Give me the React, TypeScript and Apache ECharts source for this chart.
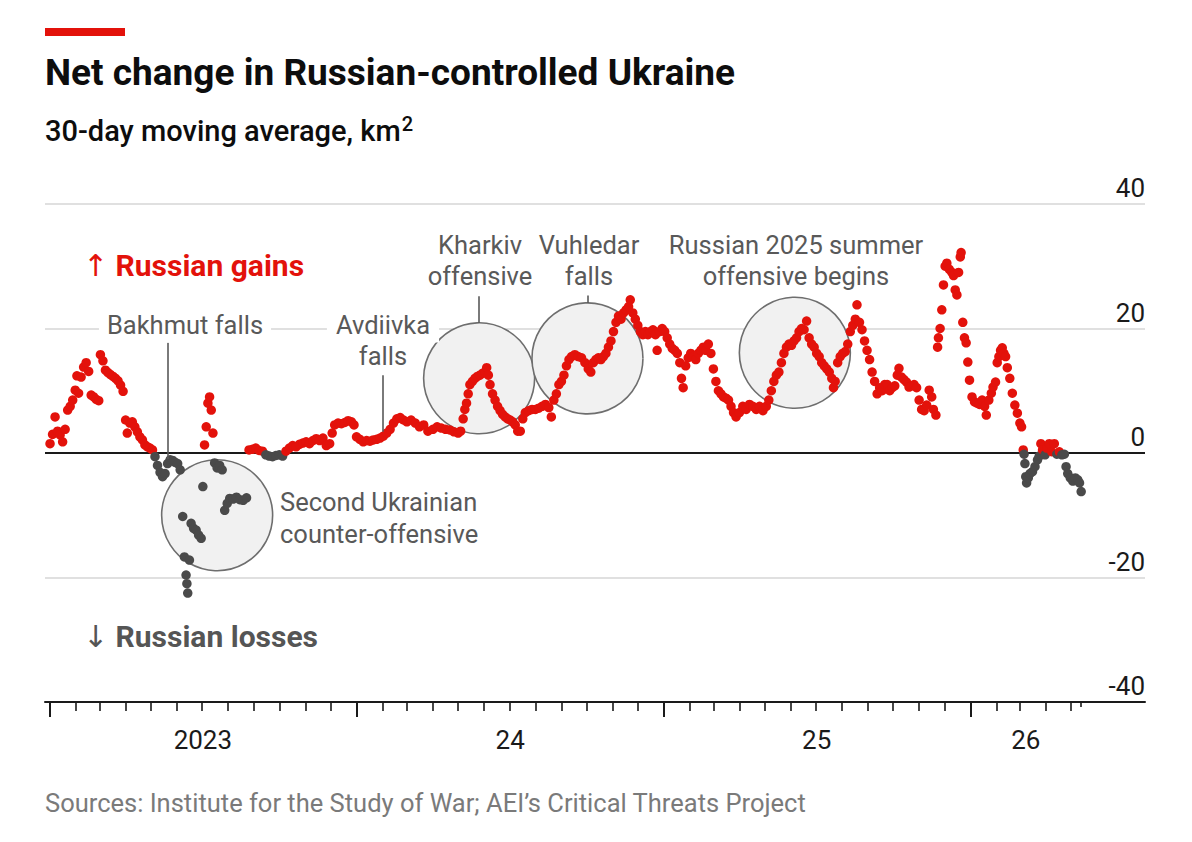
import React, { useEffect, useRef } from "react";
import * as echarts from "echarts";

// ---- Data: 30-day moving average of net change in Russian-controlled area, km2 ----
const dates = [
  "2023-01-01","2023-01-04","2023-01-07","2023-01-10","2023-01-13","2023-01-16","2023-01-19","2023-01-22","2023-01-25","2023-01-28","2023-01-31",
  "2023-02-02","2023-02-04","2023-02-07","2023-02-10","2023-02-13","2023-02-16","2023-02-19","2023-02-22","2023-02-25","2023-02-28",
  "2023-03-02","2023-03-05","2023-03-08","2023-03-11","2023-03-14","2023-03-17","2023-03-20","2023-03-23","2023-03-26","2023-03-29",
  "2023-04-01","2023-04-03","2023-04-06","2023-04-09","2023-04-12","2023-04-15","2023-04-18","2023-04-21","2023-04-24","2023-04-27","2023-04-30",
  "2023-05-03","2023-05-06","2023-05-09","2023-05-12","2023-05-15","2023-05-18","2023-05-21","2023-05-24","2023-05-27","2023-05-30",
  "2023-06-02","2023-06-05","2023-06-08","2023-06-10","2023-06-12","2023-06-13","2023-06-14","2023-06-16","2023-06-18","2023-06-21","2023-06-24","2023-06-27","2023-06-30",
  "2023-07-02","2023-07-04","2023-07-06","2023-07-08","2023-07-10","2023-07-12","2023-07-14","2023-07-16","2023-07-19","2023-07-22","2023-07-25","2023-07-28","2023-07-31",
  "2023-08-03","2023-08-07","2023-08-11","2023-08-15","2023-08-19","2023-08-23","2023-08-26","2023-08-30",
  "2023-09-03","2023-09-07","2023-09-11","2023-09-15","2023-09-19","2023-09-23","2023-09-27",
  "2023-10-01","2023-10-05","2023-10-09","2023-10-13","2023-10-17","2023-10-21","2023-10-25","2023-10-29",
  "2023-11-02","2023-11-06","2023-11-10","2023-11-14","2023-11-18","2023-11-22","2023-11-26","2023-11-30",
  "2023-12-03","2023-12-06","2023-12-10","2023-12-14","2023-12-18","2023-12-22","2023-12-26","2023-12-29",
  "2024-01-01","2024-01-05","2024-01-09","2024-01-13","2024-01-17","2024-01-21","2024-01-25","2024-01-29",
  "2024-02-02","2024-02-06","2024-02-10","2024-02-14","2024-02-18","2024-02-22","2024-02-26",
  "2024-03-01","2024-03-06","2024-03-11","2024-03-16","2024-03-21","2024-03-26",
  "2024-04-01","2024-04-06","2024-04-11","2024-04-16","2024-04-21","2024-04-26",
  "2024-05-01","2024-05-04","2024-05-07","2024-05-09","2024-05-11","2024-05-13","2024-05-15","2024-05-18","2024-05-21","2024-05-24","2024-05-27","2024-05-30",
  "2024-06-02","2024-06-04","2024-06-06","2024-06-08","2024-06-11","2024-06-14","2024-06-17","2024-06-20","2024-06-23","2024-06-26","2024-06-29",
  "2024-07-02","2024-07-05","2024-07-08","2024-07-11","2024-07-14","2024-07-17","2024-07-20","2024-07-24","2024-07-28",
  "2024-08-01","2024-08-05","2024-08-09","2024-08-13","2024-08-17","2024-08-20","2024-08-23","2024-08-26","2024-08-29",
  "2024-09-01","2024-09-04","2024-09-07","2024-09-10","2024-09-13","2024-09-17","2024-09-21","2024-09-25","2024-09-29",
  "2024-10-03","2024-10-06","2024-10-09","2024-10-12","2024-10-15","2024-10-18","2024-10-21","2024-10-24","2024-10-27","2024-10-30",
  "2024-11-02","2024-11-05","2024-11-08","2024-11-11","2024-11-14","2024-11-17","2024-11-20","2024-11-22","2024-11-25","2024-11-28",
  "2024-12-01","2024-12-04","2024-12-07","2024-12-10","2024-12-13","2024-12-16","2024-12-19","2024-12-22","2024-12-24","2024-12-27","2024-12-30",
  "2025-01-02","2025-01-05","2025-01-08","2025-01-11","2025-01-14","2025-01-17","2025-01-20","2025-01-22","2025-01-24","2025-01-27","2025-01-30",
  "2025-02-02","2025-02-05","2025-02-08","2025-02-11","2025-02-14","2025-02-17","2025-02-20","2025-02-23","2025-02-26",
  "2025-03-01","2025-03-04","2025-03-07","2025-03-10","2025-03-13","2025-03-16","2025-03-19","2025-03-22","2025-03-25","2025-03-28",
  "2025-04-01","2025-04-05","2025-04-09","2025-04-13","2025-04-17","2025-04-21","2025-04-25","2025-04-29",
  "2025-05-03","2025-05-06","2025-05-09","2025-05-12","2025-05-15","2025-05-18","2025-05-21","2025-05-24","2025-05-27","2025-05-30",
  "2025-06-02","2025-06-05","2025-06-08","2025-06-11","2025-06-14","2025-06-17","2025-06-20","2025-06-23","2025-06-26","2025-06-29",
  "2025-07-02","2025-07-05","2025-07-08","2025-07-11","2025-07-14","2025-07-17","2025-07-20","2025-07-22","2025-07-24","2025-07-27","2025-07-30",
  "2025-08-02","2025-08-05","2025-08-08","2025-08-11","2025-08-14","2025-08-17","2025-08-19","2025-08-22","2025-08-25","2025-08-28","2025-08-31",
  "2025-09-03","2025-09-06","2025-09-09","2025-09-12","2025-09-15","2025-09-18","2025-09-21","2025-09-24","2025-09-27","2025-09-30",
  "2025-10-03","2025-10-06","2025-10-08","2025-10-11","2025-10-14","2025-10-17","2025-10-20","2025-10-23","2025-10-26","2025-10-29",
  "2025-11-01","2025-11-04","2025-11-07","2025-11-10","2025-11-13","2025-11-16","2025-11-18","2025-11-21","2025-11-23","2025-11-24","2025-11-26","2025-11-28","2025-11-30",
  "2025-12-02","2025-12-04","2025-12-07","2025-12-10","2025-12-12","2025-12-14","2025-12-16","2025-12-18","2025-12-20","2025-12-21","2025-12-23","2025-12-25","2025-12-27","2025-12-29","2025-12-31",
  "2026-01-03","2026-01-06","2026-01-09","2026-01-12","2026-01-15","2026-01-18","2026-01-20","2026-01-23","2026-01-26","2026-01-28","2026-01-31",
  "2026-02-02","2026-02-04","2026-02-06","2026-02-08","2026-02-10","2026-02-12","2026-02-14","2026-02-17","2026-02-20","2026-02-23","2026-02-26",
  "2026-03-01","2026-03-03","2026-03-05","2026-03-06","2026-03-07","2026-03-08","2026-03-09","2026-03-11","2026-03-13","2026-03-16","2026-03-19","2026-03-22","2026-03-24","2026-03-26","2026-03-28","2026-03-31",
  "2026-04-02","2026-04-05","2026-04-08","2026-04-11","2026-04-14","2026-04-17","2026-04-20","2026-04-23","2026-04-25","2026-04-27","2026-04-30",
  "2026-05-03","2026-05-06","2026-05-09","2026-05-11","2026-05-13"
];

const values = [
  1.5, 3.0, 5.8, 3.5, 2.9, 1.8, 3.8, 6.9, 7.5, 8.5, 10.1,
  12.4, 9.6, 12.2, 13.8, 14.5, 13.1, 9.3, 9.0, 8.6, 8.4,
  15.8, 14.8, 13.3, 12.9, 12.6, 12.3, 12.0, 11.6, 10.9, 9.9,
  5.3, 3.2, 4.8, 5.0, 4.2, 3.4, 2.6, 2.1, 1.3, 1.0, 0.8,
  0.5, -0.6, -2.0, -3.1, -3.8, -3.3, -1.7, -1.1, -1.2, -1.5,
  -1.7, -2.7, -10.2, -16.7, -19.6, -21.0, -22.5, -17.2, -11.3, -12.1, -12.4, -13.2, -13.7,
  -5.4, 1.3, 4.2, 8.0, 9.0, 6.9, 3.2, -1.6, -2.4, -2.0, -2.7, -9.2, -8.1,
  -7.3, -7.4, -7.1, -7.5, -7.6, -7.2, 0.5, 0.6,
  0.8, 0.4, 0.3, -0.3, -0.5, -0.6, -0.4,
  -0.3, -0.5, 0.3, 0.8, 1.2, 1.0, 1.4, 1.6,
  1.8, 1.5, 2.0, 2.3, 2.0, 2.4, 1.2, 1.5,
  3.2, 4.5, 4.8, 4.7, 4.9, 5.2, 5.0, 4.5,
  2.6, 2.2, 1.8, 2.0, 1.9, 2.1, 2.2, 2.4,
  2.7, 3.2, 3.8, 4.8, 5.5, 5.7, 5.3,
  5.0, 5.3, 4.8, 4.2, 4.5, 3.5,
  3.8, 4.2, 4.0, 3.8, 3.7, 3.4,
  3.2, 3.5, 5.5, 7.0, 8.0, 9.5, 11.0, 11.5, 12.0, 12.3, 12.5, 12.8,
  13.0, 13.7, 12.5, 11.0, 9.5, 8.5, 7.5, 6.8, 6.2, 5.8, 5.5,
  5.3, 5.0, 4.5, 3.5, 3.5, 5.5, 6.5, 6.8, 7.0,
  7.0, 7.2, 7.5, 7.8, 7.3, 5.8, 8.5, 9.5, 11.0,
  11.5, 12.5, 14.0, 15.0, 15.5, 15.8, 15.5, 15.3, 14.5,
  13.5, 13.0, 14.5, 15.0, 15.3, 15.0, 15.5, 16.0, 17.0, 18.0,
  19.5, 21.0, 22.0, 21.5, 22.5, 23.0, 23.5, 24.6, 22.5, 21.5,
  20.5, 19.5, 19.0, 19.5, 19.0, 19.5, 19.8, 19.0, 16.5, 19.5, 20.0,
  19.5, 18.5, 17.5, 16.8, 16.5, 16.0, 14.5, 12.0, 10.5, 14.0, 15.3,
  16.0, 15.5, 15.0, 16.0, 16.5, 17.0, 16.5, 17.5, 16.0,
  13.5, 11.5, 10.0, 9.5, 9.0, 8.8, 8.5, 7.5, 6.5, 5.8,
  6.5, 7.5, 7.0, 7.8, 7.5, 7.0, 7.5, 6.8,
  7.5, 8.5, 10.0, 11.5, 12.5, 13.0, 14.5, 16.0, 17.0, 17.5,
  17.3, 18.0, 18.5, 19.5, 20.0, 19.8, 21.2, 18.5, 17.5, 17.0,
  16.0, 15.5, 14.5, 14.0, 13.5, 13.0, 12.0, 10.5, 11.5, 14.5, 15.5,
  16.0, 16.3, 17.5, 19.5, 20.5, 21.5, 23.8, 21.0, 19.8, 18.0, 16.5,
  15.0, 13.0, 11.5, 9.5, 10.5, 10.0, 11.0, 11.0, 10.0, 10.5,
  10.8, 12.5, 13.6, 12.2, 11.8, 11.4, 10.6, 10.8, 11.0, 10.5,
  8.5, 7.0, 6.8, 7.7, 10.1, 9.0, 7.0, 6.1, 17.0, 18.5, 20.0, 23.0, 27.0,
  30.0, 30.5, 29.5, 29.0, 28.5, 26.2, 25.4, 29.0, 31.5, 32.2, 21.0, 18.5, 17.7, 14.6, 11.7,
  9.0, 8.2, 8.0, 7.8, 8.5, 7.5, 6.1, 8.5, 9.6, 10.6, 11.4,
  14.5, 15.5, 16.5, 16.9, 16.0, 15.5, 13.7, 12.0, 9.6, 7.7, 6.4,
  4.8, 4.2, 0.5, -0.2, -1.7, -3.8, -4.8, -4.0, -3.3, -3.0, -2.2, -1.1, -0.5, 1.5, 0.5, -0.3,
  0.8, 1.5, 0.2, 1.5, -0.2, 0.2, -0.3, -0.2, -2.2, -3.3, -4.0,
  -4.5, -4.0, -4.3, -4.8, -6.2
];

// ---- Axis labels / ticks ----
const yearLabels = ["2023", "24", "25", "26"];
const yearLabelDates = ["2023-07-02", "2024-07-02", "2025-07-02", "2026-03-08"];
const yearTickDates = ["2023-01-01", "2024-01-01", "2025-01-01", "2026-01-01"];
const lastDataDate = "2026-05-13";
const axisStart = "2022-12-26";
const axisEnd = "2026-07-28";

// ---- Annotation circles (date, value) and leader lines ----
const circleDates = ["2023-07-19", "2024-05-26", "2024-10-02", "2025-06-06"];
const circleValues = [-10, 12, 15.2, 16.1];
const leaderDates = ["2023-05-21", "2024-02-01", "2024-05-26", "2024-10-02"];
const leaderTop = [17.7, 12.5, 25.2, 25.3];
const leaderBottom = [-1.0, 3.4, 20.9, 24.1];

const RED = "#e3120b";
const GREY_DOT = "#4a4a4a";
const ANNO = "#595959";
const FONT = "Roboto, 'Noto Sans', sans-serif";
const ARROW_FONT = "'DejaVu Sans', Roboto, sans-serif";

const ts = (s: string) => {
  const [y, m, d] = s.split("-").map(Number);
  return new Date(y, m - 1, d).getTime();
};

function monthTicks() {
  const out: number[] = [];
  const end = ts("2026-05-01");
  for (let y = 2023; y <= 2026; y++) {
    for (let m = 0; m < 12; m++) {
      const t = new Date(y, m, 1).getTime();
      if (t <= end) out.push(t);
    }
  }
  return out;
}

const annoStyle = (text: string, extra: any = {}) => ({
  text,
  fill: ANNO,
  fontSize: 25.5,
  lineHeight: 31,
  fontFamily: FONT,
  align: "center",
  verticalAlign: "middle",
  ...extra,
});

export default function App() {
  const ref = useRef<HTMLDivElement>(null);

  useEffect(() => {
    document.body.style.margin = "0";
    if (!ref.current) return;
    const chart = echarts.init(ref.current, undefined, { renderer: "svg" });

    const labelTs = yearLabelDates.map(ts);
    const xMin = ts(axisStart);
    const xMax = ts(axisEnd);

    const baseX = {
      type: "value" as const,
      min: xMin,
      max: xMax,
      position: "bottom" as const,
      splitLine: { show: false },
    };

    const option: any = {
      animation: false,
      textStyle: { fontFamily: FONT },
      grid: { left: 45, right: 47, top: 204, bottom: 140 },
      xAxis: [
        {
          ...baseX,
          axisLine: { show: true, onZero: false, lineStyle: { color: "#1a1a1a", width: 2 } },
          axisTick: {
            show: true,
            customValues: monthTicks(),
            length: 9,
            lineStyle: { color: "#1a1a1a", width: 1.6 },
          },
          axisLabel: {
            show: true,
            customValues: labelTs,
            formatter: (v: number) => {
              let best = 0;
              labelTs.forEach((t, i) => {
                if (Math.abs(t - v) < Math.abs(labelTs[best] - v)) best = i;
              });
              return yearLabels[best];
            },
            fontSize: 26,
            color: "#1a1a1a",
            margin: 25,
            fontFamily: FONT,
          },
        },
        {
          ...baseX,
          axisLine: { show: false, onZero: false },
          axisTick: {
            show: true,
            customValues: yearTickDates.map(ts),
            length: 15,
            lineStyle: { color: "#1a1a1a", width: 2 },
          },
          axisLabel: { show: false },
        },
        {
          ...baseX,
          axisLine: { show: false, onZero: false },
          axisTick: {
            show: true,
            customValues: [ts(lastDataDate)],
            length: 5,
            lineStyle: { color: "#1a1a1a", width: 1.6 },
          },
          axisLabel: { show: false },
        },
      ],
      yAxis: [
        {
          type: "value",
          min: -40,
          max: 40,
          interval: 20,
          position: "right",
          axisLine: { show: false },
          axisTick: { show: false },
          axisLabel: {
            inside: true,
            margin: 0,
            align: "right",
            verticalAlign: "bottom",
            padding: [0, 0, 3, 0],
            fontSize: 26,
            color: "#1a1a1a",
            fontFamily: FONT,
          },
          splitLine: {
            show: true,
            lineStyle: {
              color: ["rgba(0,0,0,0)", "#d6d6d6", "rgba(0,0,0,0)", "#d6d6d6", "#d6d6d6"],
              width: 1.6,
            },
          },
        },
        {
          type: "value",
          min: -40,
          max: 40,
          interval: 40,
          position: "right",
          axisLine: { show: false },
          axisTick: { show: false },
          axisLabel: { show: false },
          splitLine: {
            show: true,
            lineStyle: { color: ["rgba(0,0,0,0)", "#1a1a1a", "rgba(0,0,0,0)"], width: 2 },
          },
        },
      ],
      visualMap: {
        show: false,
        type: "piecewise",
        dimension: 1,
        seriesIndex: 0,
        pieces: [
          { lt: 0, color: GREY_DOT },
          { gte: 0, color: RED },
        ],
      },
      series: [
        {
          name: "Net change",
          type: "scatter",
          xAxisIndex: 0,
          yAxisIndex: 0,
          symbol: "circle",
          symbolSize: 9.5,
          z: 4,
          silent: true,
          itemStyle: { opacity: 1 },
          data: dates.map((d, i) => [ts(d), values[i]]),
        },
        {
          name: "Annotations",
          type: "scatter",
          xAxisIndex: 0,
          yAxisIndex: 0,
          symbol: "circle",
          symbolSize: 111,
          z: 2,
          silent: true,
          itemStyle: { color: "#f1f1f1", borderColor: "#6e6e6e", borderWidth: 1.6, opacity: 1 },
          data: circleDates.map((d, i) => [ts(d), circleValues[i]]),
          markLine: {
            silent: true,
            symbol: ["none", "none"],
            label: { show: false },
            lineStyle: { color: ANNO, width: 1.6, type: "solid" },
            data: leaderDates.map((d, i) => [
              { coord: [ts(d), leaderTop[i]] },
              { coord: [ts(d), leaderBottom[i]] },
            ]),
          },
        },
      ],
      graphic: [
        { type: "rect", left: 45, top: 28, shape: { width: 80, height: 8 }, style: { fill: RED } },
        {
          type: "text", x: 45, y: 72, z: 10,
          style: { text: "Net change in Russian-controlled Ukraine", fill: "#0d0d0d", fontSize: 37, fontWeight: "bold", fontFamily: FONT, verticalAlign: "middle" },
        },
        {
          type: "text", x: 45, y: 131, z: 10,
          style: {
            text: "30-day moving average, km{sup|2}",
            fill: "#0d0d0d", fontSize: 29, fontWeight: 500, fontFamily: FONT, verticalAlign: "middle",
            rich: { sup: { fontSize: 20, fontWeight: 500, fontFamily: FONT, fill: "#0d0d0d", verticalAlign: "top", padding: [0, 0, 14, 1] } },
          },
        },
        {
          type: "text", x: 83, y: 265, z: 10,
          style: {
            text: "{a|↑} Russian gains",
            fill: RED, fontSize: 30, fontWeight: "bold", fontFamily: FONT, verticalAlign: "middle",
            rich: { a: { fontSize: 30, fontFamily: ARROW_FONT, fill: RED, fontWeight: "normal" } },
          },
        },
        {
          type: "text", x: 83, y: 636, z: 10,
          style: {
            text: "{a|↓} Russian losses",
            fill: "#555555", fontSize: 30, fontWeight: "bold", fontFamily: FONT, verticalAlign: "middle",
            rich: { a: { fontSize: 30, fontFamily: ARROW_FONT, fill: "#555555", fontWeight: "normal" } },
          },
        },
        {
          type: "text", x: 185, y: 325, z: 10,
          style: annoStyle("Bakhmut falls", { backgroundColor: "#ffffff", padding: [2, 8] }),
        },
        {
          type: "text", x: 383, y: 325, z: 10,
          style: annoStyle("Avdiivka", { backgroundColor: "#ffffff", padding: [2, 9] }),
        },
        { type: "text", x: 383, y: 356, z: 10, style: annoStyle("falls") },
        { type: "text", x: 480, y: 260, z: 10, style: annoStyle("Kharkiv\noffensive") },
        { type: "text", x: 589, y: 260, z: 10, style: annoStyle("Vuhledar\nfalls") },
        { type: "text", x: 796, y: 260, z: 10, style: annoStyle("Russian 2025 summer\noffensive begins") },
        {
          type: "text", x: 280, y: 518, z: 10,
          style: annoStyle("Second Ukrainian\ncounter-offensive", { align: "left", lineHeight: 32 }),
        },
        {
          type: "text", x: 45, y: 803, z: 10,
          style: { text: "Sources: Institute for the Study of War; AEI’s Critical Threats Project", fill: "#7a7a7a", fontSize: 25.5, fontFamily: FONT, verticalAlign: "middle" },
        },
      ],
    };

    chart.setOption(option);
    return () => {
      chart.dispose();
    };
  }, []);

  return <div ref={ref} style={{ width: 1192, height: 842, background: "#ffffff" }} />;
}
